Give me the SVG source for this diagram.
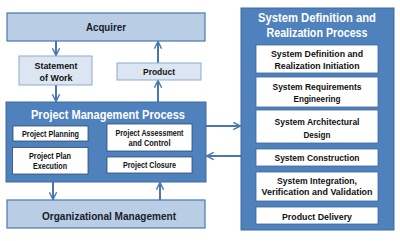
<svg xmlns="http://www.w3.org/2000/svg" width="400" height="241" viewBox="0 0 400 241">
<defs>
<style>
.big{fill:#b9cde5;stroke:#4a77ae;stroke-width:1.2}
.doc{fill:#dce6f2;stroke:#8eaad0;stroke-width:1}
.proc{fill:#4f81bd;stroke:#3f6aa0;stroke-width:1}
.in{fill:#ffffff;stroke:#2d4a73;stroke-width:0.8}
.sin{fill:#ffffff;stroke:#3d679d;stroke-width:0.8}
text{font-family:"Liberation Sans",Arial,sans-serif;font-weight:bold;text-anchor:middle}
.t1{font-size:11.5px;fill:#17202c}
.t2{font-size:8.8px;fill:#111}
.tw{font-size:12px;fill:#ffffff}
.c{fill:none;stroke:#4a77ae;stroke-width:2}
</style>
<marker id="ah" viewBox="0 0 10 10" refX="9" refY="5" markerWidth="4.5" markerHeight="4.5" orient="auto" markerUnits="strokeWidth">
<path d="M1,1 L9,5 L1,9" fill="none" stroke="#4a77ae" stroke-width="1.6"/>
</marker>
</defs>
<rect width="400" height="241" fill="#ffffff"/>
<g id="connectors">
<line class="c" x1="56" y1="41" x2="56" y2="55.5" marker-end="url(#ah)"/>
<line class="c" x1="56" y1="85" x2="56" y2="101.5" marker-end="url(#ah)"/>
<line class="c" x1="158" y1="102" x2="158" y2="80.5" marker-end="url(#ah)"/>
<line class="c" x1="158" y1="63" x2="158" y2="41.5" marker-end="url(#ah)"/>
<line class="c" x1="206" y1="126" x2="240.5" y2="126" marker-end="url(#ah)"/>
<line class="c" x1="241" y1="156" x2="206.5" y2="156" marker-end="url(#ah)"/>
<line class="c" x1="53" y1="182" x2="53" y2="199.5" marker-end="url(#ah)"/>
<line class="c" x1="160" y1="200" x2="160" y2="182.5" marker-end="url(#ah)"/>
</g>
<g id="acquirer">
<rect class="big" x="7" y="13" width="198" height="28"/>
<text class="t1" x="106" y="31" textLength="40" lengthAdjust="spacingAndGlyphs">Acquirer</text>
</g>
<g id="statement-of-work">
<rect class="doc" x="19" y="56" width="73" height="29"/>
<text class="t2" x="56" y="69" textLength="43" lengthAdjust="spacingAndGlyphs">Statement</text>
<text class="t2" x="56" y="81" textLength="33" lengthAdjust="spacingAndGlyphs">of Work</text>
</g>
<g id="product">
<rect class="doc" x="117" y="63" width="84" height="17"/>
<text class="t2" x="159" y="75" textLength="32" lengthAdjust="spacingAndGlyphs">Product</text>
</g>
<g id="project-management-process">
<rect class="proc" x="6" y="102" width="200" height="80"/>
<text class="tw" x="108" y="119" textLength="154" lengthAdjust="spacingAndGlyphs">Project Management Process</text>
</g>
<g id="project-planning">
<rect class="in" x="13" y="126" width="75" height="15"/>
<text class="t2" x="50.5" y="137" textLength="57" lengthAdjust="spacingAndGlyphs">Project Planning</text>
</g>
<g id="project-plan-execution">
<rect class="in" x="12.5" y="147.5" width="75.5" height="26.5" stroke-width="1.2"/>
<text class="t2" x="50" y="159" textLength="42" lengthAdjust="spacingAndGlyphs">Project Plan</text>
<text class="t2" x="50" y="169" textLength="34" lengthAdjust="spacingAndGlyphs">Execution</text>
</g>
<g id="project-assessment-and-control">
<rect class="in" x="107" y="124" width="85" height="27"/>
<text class="t2" x="149.5" y="136" textLength="68" lengthAdjust="spacingAndGlyphs">Project Assessment</text>
<text class="t2" x="149.5" y="146" textLength="42" lengthAdjust="spacingAndGlyphs">and Control</text>
</g>
<g id="project-closure">
<rect class="in" x="107" y="157" width="85" height="16"/>
<text class="t2" x="149.5" y="168" textLength="53" lengthAdjust="spacingAndGlyphs">Project Closure</text>
</g>
<g id="organizational-management">
<rect class="big" x="7" y="200" width="198" height="28"/>
<text class="t1" x="109" y="220" textLength="134" lengthAdjust="spacingAndGlyphs">Organizational Management</text>
</g>
<g id="system-definition-and-realization-process">
<rect class="proc" x="241" y="8" width="153" height="222"/>
<text class="tw" x="317" y="22" textLength="118" lengthAdjust="spacingAndGlyphs">System Definition and</text>
<text class="tw" x="317" y="37" textLength="101" lengthAdjust="spacingAndGlyphs">Realization Process</text>
</g>
<g id="sdr-initiation">
<rect class="sin" x="256" y="45" width="122" height="28"/>
<text class="t2" x="317" y="57" textLength="92" lengthAdjust="spacingAndGlyphs">System Definition and</text>
<text class="t2" x="317" y="69" textLength="85" lengthAdjust="spacingAndGlyphs">Realization Initiation</text>
</g>
<g id="system-requirements-engineering">
<rect class="sin" x="256" y="77" width="122" height="30"/>
<text class="t2" x="317" y="90" textLength="89" lengthAdjust="spacingAndGlyphs">System Requirements</text>
<text class="t2" x="317" y="102" textLength="47" lengthAdjust="spacingAndGlyphs">Engineering</text>
</g>
<g id="system-architectural-design">
<rect class="sin" x="256" y="110" width="122" height="33"/>
<text class="t2" x="317" y="125" textLength="85" lengthAdjust="spacingAndGlyphs">System Architectural</text>
<text class="t2" x="317" y="138" textLength="27" lengthAdjust="spacingAndGlyphs">Design</text>
</g>
<g id="system-construction">
<rect class="sin" x="256" y="149" width="122" height="17"/>
<text class="t2" x="317" y="161" textLength="85" lengthAdjust="spacingAndGlyphs">System Construction</text>
</g>
<g id="system-integration">
<rect class="sin" x="256" y="172" width="122" height="29"/>
<text class="t2" x="317" y="184" textLength="80" lengthAdjust="spacingAndGlyphs">System Integration,</text>
<text class="t2" x="317" y="195" textLength="111" lengthAdjust="spacingAndGlyphs">Verification and Validation</text>
</g>
<g id="product-delivery">
<rect class="sin" x="256" y="207" width="122" height="17"/>
<text class="t2" x="317" y="220" textLength="70" lengthAdjust="spacingAndGlyphs">Product Delivery</text>
</g>
</svg>
